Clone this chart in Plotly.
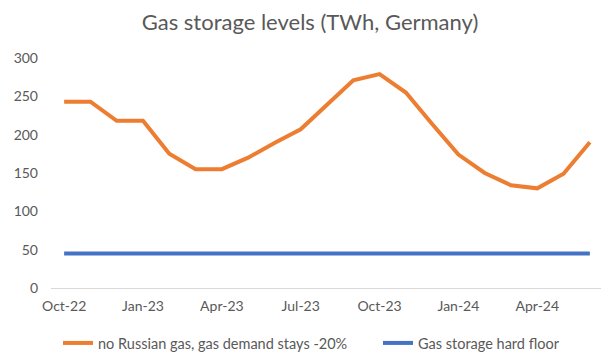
import plotly.graph_objects as go

months = ["Oct-22", "Nov-22", "Dec-22", "Jan-23", "Feb-23", "Mar-23", "Apr-23",
          "May-23", "Jun-23", "Jul-23", "Aug-23", "Sep-23", "Oct-23", "Nov-23",
          "Dec-23", "Jan-24", "Feb-24", "Mar-24", "Apr-24", "May-24", "Jun-24"]
no_russian_gas = [243, 243, 218, 218, 175, 155, 155, 170, 189, 207, 239, 271,
                  279, 255, 214, 174, 150, 134, 130, 149, 190]
hard_floor = [45] * len(months)
tick_labels = months[::3]

font_family = "Lato, 'Open Sans', sans-serif"
grey = "#595959"

# page body has an 8px margin, so the figure is drawn 8px smaller
W, H = 601, 354

fig = go.Figure()
fig.add_trace(go.Scatter(x=months, y=no_russian_gas, mode="lines",
                         name="no Russian gas, gas demand stays -20%",
                         line=dict(color="#ED7D31", width=4), legend="legend"))
fig.add_trace(go.Scatter(x=months, y=hard_floor, mode="lines",
                         name="Gas storage hard floor",
                         line=dict(color="#4472C4", width=4), legend="legend2"))

legend_common = dict(orientation="h", xref="container", yref="container",
                     xanchor="left", y=1 - 335 / H, yanchor="middle",
                     font=dict(size=14.5, color=grey), itemwidth=30,
                     bgcolor="rgba(0,0,0,0)")

fig.update_layout(
    width=W, height=H,
    margin=dict(l=40, r=6, t=50, b=74),
    paper_bgcolor="white", plot_bgcolor="white",
    font=dict(family=font_family, color=grey, size=14),
    title=dict(text="Gas storage levels (TWh, Germany)", x=(310 - 8) / W, xanchor="center",
               xref="container", y=1 - 14 / H, yanchor="middle", yref="container",
               font=dict(size=22, color=grey, family=font_family)),
    showlegend=True,
    legend=dict(x=(58 - 8) / W, **legend_common),
    legend2=dict(x=(378 - 8) / W, **legend_common),
    xaxis=dict(type="category", categoryorder="array", categoryarray=months,
               range=[-0.5, len(months) - 0.5],
               tickmode="array", tickvals=tick_labels, ticktext=tick_labels,
               showgrid=False, showline=True, linecolor="#D9D9D9", linewidth=1,
               ticks="", zeroline=False, tickfont=dict(size=14, color=grey),
               ticklabelstandoff=5),
    yaxis=dict(range=[0, 300], dtick=50, tick0=0, showgrid=False, zeroline=False,
               showline=False, ticks="", tickfont=dict(size=14, color=grey),
               ticklabelstandoff=12),
)

fig.write_html("out.html")
